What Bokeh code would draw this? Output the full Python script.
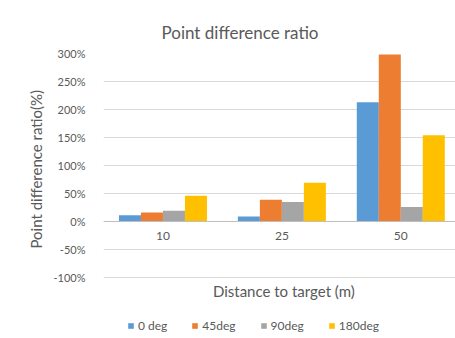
from bokeh.plotting import figure
from bokeh.models import (ColumnDataSource, Range1d, FixedTicker, PrintfTickFormatter,
                          Legend, LegendItem, Label, Span, Title)
from bokeh.core.properties import value
from bokeh.transform import dodge
from bokeh.embed import file_html
from bokeh.resources import INLINE

# Data
distances = ["10", "25", "50"]
series_names = ["0 deg", "45deg", "90deg", "180deg"]
deg0 = [11, 9, 213]
deg45 = [16, 39, 298]
deg90 = [19, 35, 26]
deg180 = [46, 69, 154]
y_ticks = [-100, -50, 0, 50, 100, 150, 200, 250, 300]

colors = ["#5B9BD5", "#ED7D31", "#A5A5A5", "#FFC000"]
text_color = "#595959"
font = "Lato"

xs = list(range(len(distances)))
source = ColumnDataSource(data=dict(x=xs, d0=deg0, d45=deg45, d90=deg90, d180=deg180,
                                    label=distances, zero=[0] * len(xs)))

# The frame runs to the bottom edge so the axis title and legend sit inside it,
# below the lowest tick.
p = figure(width=455, height=338, output_backend="svg", toolbar_location=None,
           x_range=Range1d(-0.5, 2.46), y_range=Range1d(-209, 300),
           min_border_left=103, min_border_right=0, min_border_top=53,
           min_border_bottom=0)

p.title.text = "Point difference ratio"
p.title.text_font = font
p.title.text_font_size = "17px"
p.title.text_font_style = "normal"
p.title.text_color = text_color
p.title.align = "left"
p.title.offset = 58
p.title.standoff = 22

bar_w = 0.185
offsets = [-1.5 * bar_w, -0.5 * bar_w, 0.5 * bar_w, 1.5 * bar_w]
cols = ["d0", "d45", "d90", "d180"]
renderers = []
for col, off, c in zip(cols, offsets, colors):
    r = p.vbar(x=dodge("x", off, range=p.x_range), top=col, bottom=0, width=bar_w,
               source=source, fill_color=c, line_color=None)
    renderers.append(r)

# Category axis crossing at zero
p.add_layout(Span(location=0, dimension="width", line_color="#bfbfbf", line_width=1))
p.text(x="x", y="zero", text="label", source=source, y_offset=15,
       text_align="center", text_baseline="middle", text_font=value(font),
       text_font_size="12px", text_color=text_color)
p.xaxis.visible = False

p.yaxis.ticker = FixedTicker(ticks=y_ticks)
p.yaxis.formatter = PrintfTickFormatter(format="%d%%")
p.yaxis.axis_line_color = None
p.yaxis.major_tick_line_color = None
p.yaxis.minor_tick_line_color = None
p.yaxis.major_label_text_font = font
p.yaxis.major_label_text_font_size = "11px"
p.yaxis.major_label_text_color = text_color
p.yaxis.major_label_standoff = 12

# Value-axis title, centred on the -100%..300% span rather than the whole frame
ytitle = Title(text="Point difference ratio(%)", align="left", offset=90,
               text_font=font, text_font_size="15px", text_font_style="normal",
               text_color=text_color, standoff=12)
p.add_layout(ytitle, "left")

p.xgrid.grid_line_color = None
p.ygrid.ticker = FixedTicker(ticks=y_ticks)
p.ygrid.grid_line_color = "#d9d9d9"
p.outline_line_color = None

# Axis title under the lowest tick
p.add_layout(Label(x=1.0, y=-100, x_offset=2, y_offset=-14, text="Distance to target (m)",
                   text_align="center", text_baseline="middle", text_font=font,
                   text_font_size="15px", text_color=text_color))

legend = Legend(items=[LegendItem(label=n, renderers=[r]) for n, r in zip(series_names, renderers)],
                orientation="horizontal", location=(24, 5),
                label_text_font=font, label_text_font_size="12px", label_text_color=text_color,
                glyph_width=7, glyph_height=7, label_standoff=4, spacing=24,
                padding=0, margin=0, border_line_color=None, background_fill_alpha=0)
p.add_layout(legend)

open("out.html", "w").write(file_html(p, INLINE))
